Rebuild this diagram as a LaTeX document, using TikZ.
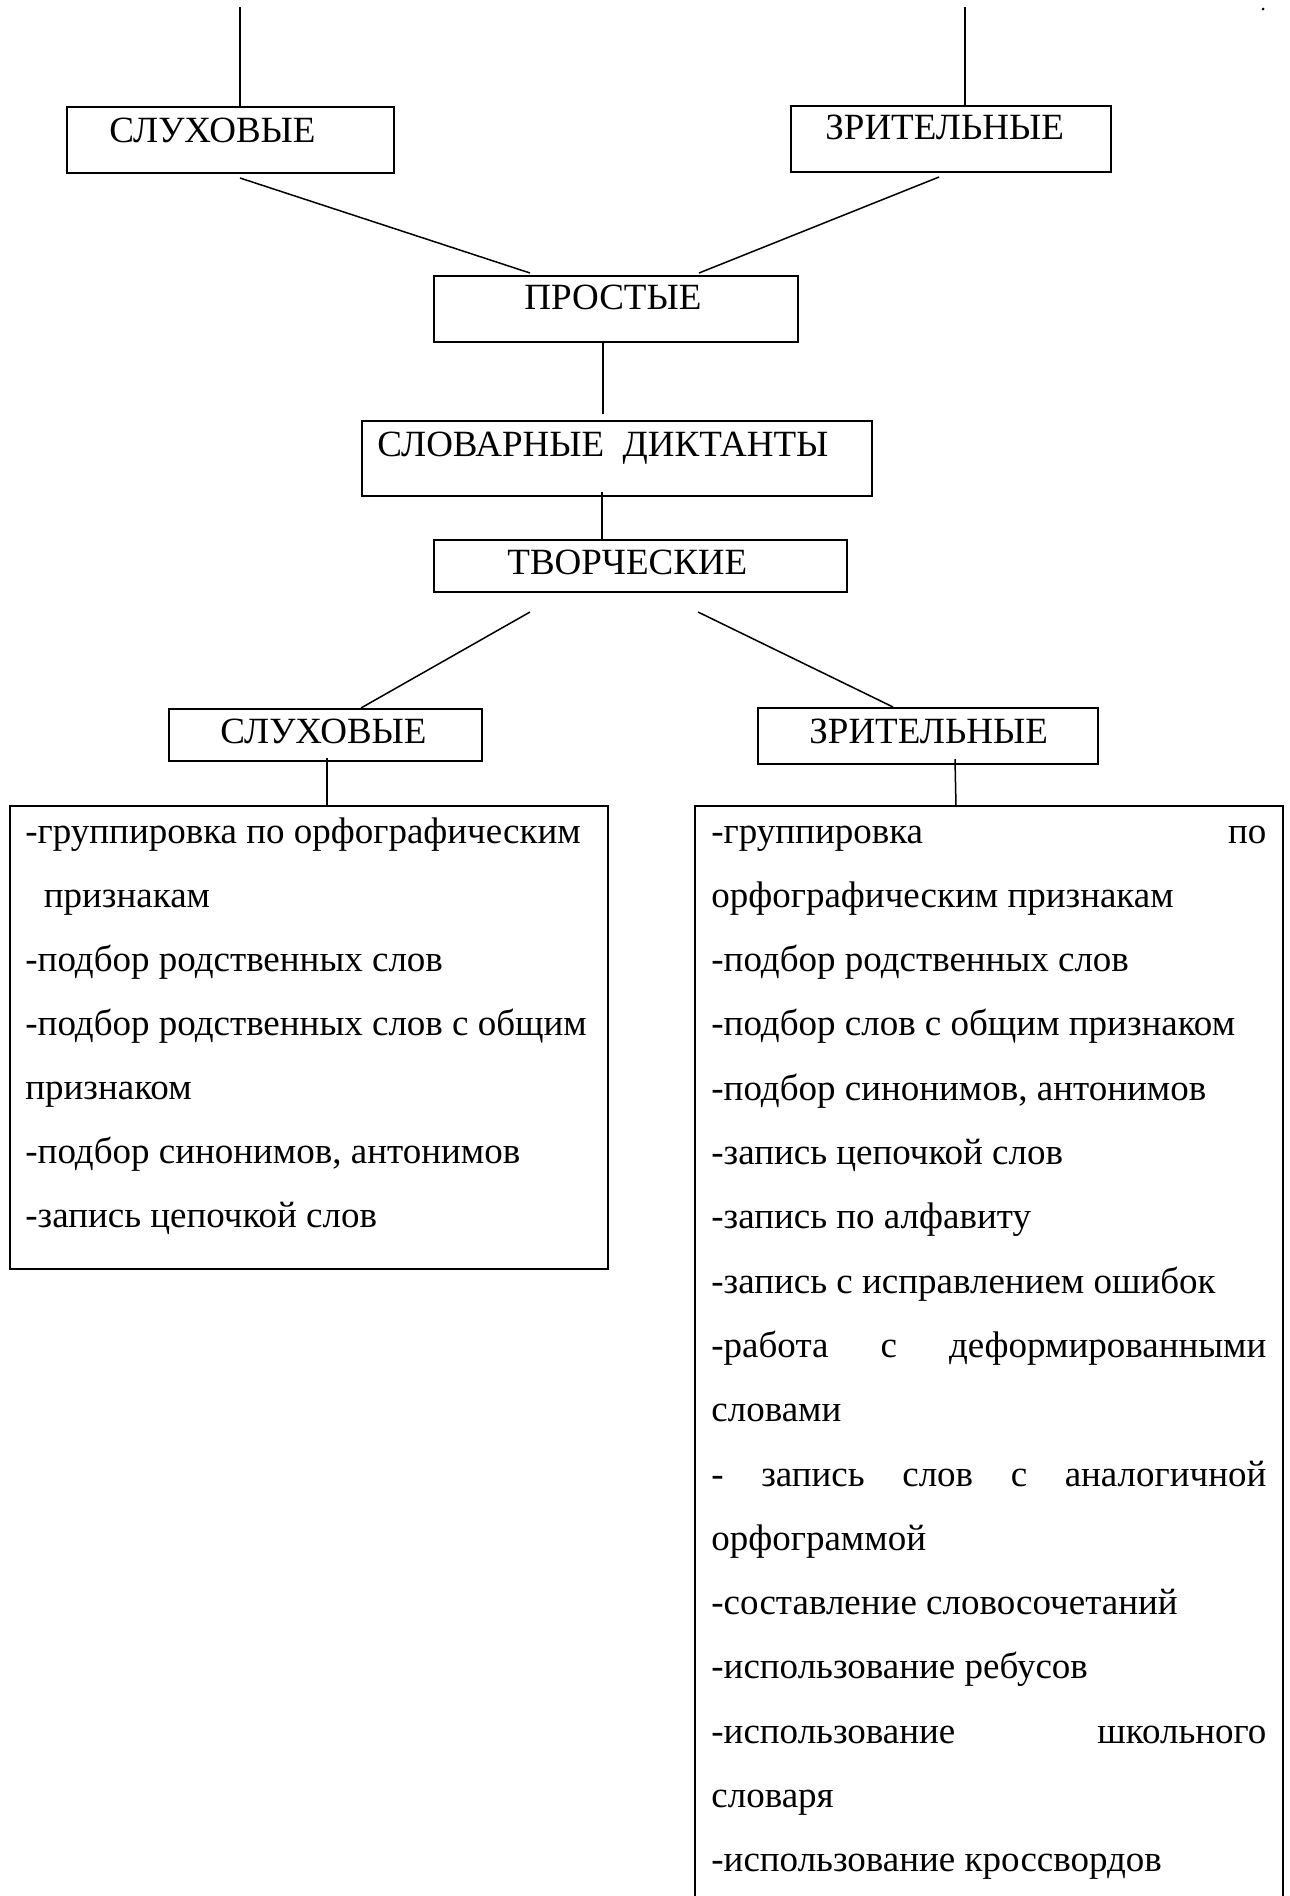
\documentclass[tikz,border=0pt]{standalone}
\usepackage{fontspec}
\setmainfont{Liberation Serif}
\usetikzlibrary{calc}
\begin{document}
\begin{tikzpicture}[x=0.5pt,y=-0.5pt,
  box/.style={draw, line width=1pt, inner sep=0pt},
  lab/.style={anchor=base west, inner sep=0pt, font=\fontsize{18.5pt}{22pt}\selectfont},
  con/.style={line width=0.75pt}]
\useasboundingbox (0,0) rectangle (1290,1896);
% boxes
\node[box, minimum width=163.5pt, minimum height=33pt] (sl1) at (230.5,140) {};
\node[box, minimum width=160pt, minimum height=33pt] (zr1) at (951,139) {};
\node[box, minimum width=182pt, minimum height=33pt] (pr) at (616,309) {};
\node[box, minimum width=255pt, minimum height=37.5pt] (sd) at (617,458.5) {};
\node[box, minimum width=206.5pt, minimum height=26pt] (tv) at (640.5,566) {};
\node[box, minimum width=156.5pt, minimum height=26pt] (sl2) at (325.5,735) {};
\node[box, minimum width=170pt, minimum height=28pt] (zr2) at (928,736) {};
\node[box, minimum width=299pt, minimum height=231.5pt] (lb) at (309,1037) {};
\coordinate (rbl) at (695,1900);
\coordinate (rbr) at (1283,1900);
\coordinate (rbtop) at (956,806);
\draw[line width=1pt] (rbl) |- (rbr |- rbtop) -- (rbr);
% labels
\node[lab] (tsl1) at (109,142) {СЛУХОВЫЕ};
\node[lab] (tzr1) at (825,139) {ЗРИТЕЛЬНЫЕ};
\node[lab] (tpr) at (524,309) {ПРОСТЫЕ};
\node[lab] (tsd) at (377,456) {СЛОВАРНЫЕ\ \ ДИКТАНТЫ};
\node[lab] (ttv) at (507,574) {ТВОРЧЕСКИЕ};
\node[lab] (tsl2) at (220,743) {СЛУХОВЫЕ};
\node[lab] (tzr2) at (809,743) {ЗРИТЕЛЬНЫЕ};
% connectors
\coordinate (t1) at (240,7);
\coordinate (t2) at (965,7);
\draw[con] (t1) -- (t1 |- sl1.north);
\draw[con] (t2) -- (t2 |- zr1.north);
\draw[con] ($(sl1.south west)+(174,4)$) -- ($(pr.north west)+(97,-2)$);
\draw[con] ($(zr1.south west)+(149,4)$) -- ($(pr.north west)+(266,-2)$);
\draw[con] ($(pr.south west)+(170,0)$) -- ($(sd.north west)+(242,-6)$);
\draw[con] ($(sd.south west)+(241,-5)$) -- ($(tv.north west)+(169,0)$);
\draw[con] ($(tv.south west)+(97,19)$) -- ($(sl2.north west)+(193,0)$);
\draw[con] ($(tv.south west)+(265,19)$) -- ($(zr2.north west)+(136,0)$);
\draw[con] ($(sl2.south west)+(159,-4)$) -- ($(lb.north west)+(318,0)$);
\draw[con] ($(zr2.south west)+(198,-6)$) -- (rbtop);
\fill (1263,9) circle[radius=1.5];
% left list
\node[lab] (l0) at (25,843) {-группировка по орфографическим};
\node[lab] (l1) at (25,907) {\ \ признакам};
\node[lab] (l2) at (25,971) {-подбор родственных слов};
\node[lab] (l3) at (25,1035) {-подбор родственных слов с общим};
\node[lab] (l4) at (25,1099) {признаком};
\node[lab] (l5) at (25,1163) {-подбор синонимов, антонимов};
\node[lab] (l6) at (25,1227) {-запись цепочкой слов};
% right list
\node[lab] (r0) at (711,843) {\hbox to 277.5pt{-группировка\hfill по}};
\node[lab] (r1) at (711,907.3) {орфографическим признакам};
\node[lab] (r2) at (711,971.6) {-подбор родственных слов};
\node[lab] (r3) at (711,1035.9) {-подбор слов с общим признаком};
\node[lab] (r4) at (711,1100.2) {-подбор синонимов, антонимов};
\node[lab] (r5) at (711,1164.5) {-запись цепочкой слов};
\node[lab] (r6) at (711,1228.8) {-запись по алфавиту};
\node[lab] (r7) at (711,1293.1) {-запись с исправлением ошибок};
\node[lab] (r8) at (711,1357.4) {\hbox to 277.5pt{-работа\hfill с\hfill деформированными}};
\node[lab] (r9) at (711,1421.7) {словами};
\node[lab] (r10) at (711,1486) {\hbox to 277.5pt{-\hfill запись\hfill слов\hfill с\hfill аналогичной}};
\node[lab] (r11) at (711,1550.3) {орфограммой};
\node[lab] (r12) at (711,1614.6) {-составление словосочетаний};
\node[lab] (r13) at (711,1678.9) {-использование ребусов};
\node[lab] (r14) at (711,1743.2) {\hbox to 277.5pt{-использование\hfill школьного}};
\node[lab] (r15) at (711,1807.5) {словаря};
\node[lab] (r16) at (711,1871.8) {-использование кроссвордов};
\end{tikzpicture}
\end{document}
